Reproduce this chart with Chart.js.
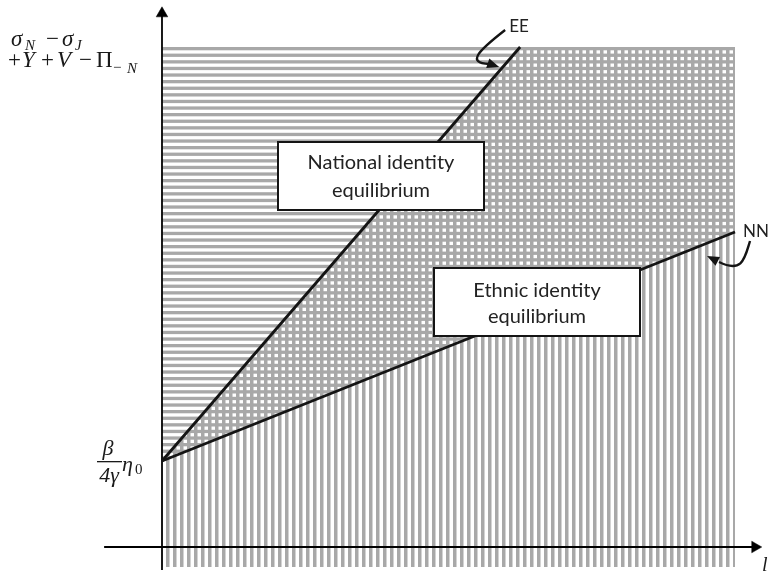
<!DOCTYPE html>
<html>
<head>
<meta charset="utf-8">
<script src="https://cdn.jsdelivr.net/npm/chart.js@4.4.0/dist/chart.umd.min.js"></script>
<style>
  html, body { margin: 0; padding: 0; background: #fff; }
  #wrap { width: 769px; height: 575px; position: relative; }
</style>
</head>
<body>
<div id="wrap"><canvas id="eqChart"></canvas></div>
<script>
// EE and NN lines (l on the x axis, value on the y axis)
var eeL = [0, 6.25];
var eeV = [1.72, 10];
var nnL = [0, 10];
var nnV = [1.72, 6.3];

// edges of the shaded area
var hatchTop = 10;
var hatchRight = 10;
var hatchFloor = -0.4;

// axes
var yAxisL = [0, 0];
var yAxisV = [-0.46, 10.67];
var xAxisL = [-1.01, 10.35];
var xAxisV = [0, 0];

var boxTexts = [
    ['National identity', 'equilibrium'],
    ['Ethnic identity', 'equilibrium']
];

var hatchGray = '#a8a8a8';
var ink = '#141414';

function pts(xs, ys) {
    return xs.map(function(x, i) { return {x: x, y: ys[i]}; });
}

var canvas = document.getElementById('eqChart');
var ctx = canvas.getContext('2d');

/**
 *  Hatch patterns: horizontal bands and vertical bands.
 */
function hPattern() {
    var c = document.createElement('canvas');
    c.width = 8; c.height = 33;
    var g = c.getContext('2d');
    g.fillStyle = hatchGray;
    for (var i = -6; i <= 6; i++) {
        g.fillRect(0, 14 + i * 6.6, 8, 3.3);
    }
    return ctx.createPattern(c, 'repeat');
}

function vPattern() {
    var c = document.createElement('canvas');
    c.width = 14; c.height = 8;
    var g = c.getContext('2d');
    g.fillStyle = hatchGray;
    for (var i = -3; i <= 3; i++) {
        g.fillRect(12 + i * 7, 0, 3.5, 8);
    }
    return ctx.createPattern(c, 'repeat');
}

function arrowHead(g, fx, fy, tx, ty, len, wid) {
    var a = Math.atan2(ty - fy, tx - fx);
    var bx = tx - Math.cos(a) * len, by = ty - Math.sin(a) * len;
    g.beginPath();
    g.moveTo(tx, ty);
    g.lineTo(bx + Math.sin(a) * wid / 2, by - Math.cos(a) * wid / 2);
    g.lineTo(bx - Math.sin(a) * wid / 2, by + Math.cos(a) * wid / 2);
    g.closePath();
    g.fill();
}

function runs(g, y, list) {
    list.forEach(function(r) {
        g.font = r[1];
        g.fillText(r[0], r[2], y + (r[3] || 0));
    });
}

/**
 *  Draws the label boxes, axis labels and the curved pointers.
 */
var labelPlugin = {
    id: 'labels',
    afterDatasetsDraw: function(chart) {
        var g = chart.ctx;
        var xs = chart.scales.x, ys = chart.scales.y;
        g.save();
        g.fillStyle = ink;
        g.strokeStyle = ink;
        g.textBaseline = 'alphabetic';

        // boxes
        var boxes = [[278, 142, 206, 68, 169, 197], [434, 268, 206, 68, 297, 323]];
        boxes.forEach(function(b, i) {
            g.fillStyle = '#fff';
            g.fillRect(b[0], b[1], b[2], b[3]);
            g.lineWidth = 2;
            g.strokeRect(b[0], b[1], b[2], b[3]);
            g.fillStyle = '#222';
            g.font = '20px Lato';
            g.textAlign = 'center';
            g.fillText(boxTexts[i][0], b[0] + b[2] / 2, b[4]);
            g.fillText(boxTexts[i][1], b[0] + b[2] / 2, b[5]);
        });

        // EE pointer
        var ex = xs.getPixelForValue(eeL[1]), ey = ys.getPixelForValue(eeV[1]);
        g.lineWidth = 2.4;
        g.beginPath();
        g.moveTo(ex - 15, ey - 17);
        g.bezierCurveTo(ex - 42, ey + 4, ex - 54, ey + 16, ex - 31, ey + 17);
        g.stroke();
        g.fillStyle = ink;
        arrowHead(g, ex - 33, ey + 16, ex - 21, ey + 20, 12, 10);
        g.textAlign = 'left';
        g.fillStyle = '#222';
        g.font = '17px Lato';
        g.fillText('EE', ex - 11, ey - 15);

        // NN pointer
        var nx = xs.getPixelForValue(nnL[1]), ny = ys.getPixelForValue(nnV[1]);
        g.beginPath();
        g.moveTo(nx + 15, ny + 9);
        g.bezierCurveTo(nx + 10, ny + 25, nx + 8, ny + 42, nx - 16, ny + 30);
        g.stroke();
        g.fillStyle = ink;
        arrowHead(g, nx - 14, ny + 31, nx - 28, ny + 24, 12, 10);
        g.fillStyle = '#222';
        g.font = '17px Lato';
        g.fillText('NN', nx + 8, ny + 5);

        // vertical axis label
        g.fillStyle = '#1a1a1a';
        var it = 'italic 23px "Liberation Serif"';
        var up = '23px "Liberation Serif"';
        var sub = 'italic 15px "Liberation Serif"';
        var subUp = '15px "Liberation Serif"';
        runs(g, 46, [['\u03C3', it, 11], ['N', sub, 25, 4], ['\u2212', up, 46], ['\u03C3', it, 62], ['J', sub, 75, 4]]);
        runs(g, 67, [['+', up, 8], ['Y', it, 22], ['+', up, 41], ['V', it, 57], ['\u2212', up, 79],
                     ['\u03A0', up, 96], ['\u2212', subUp, 113, 5], ['N', sub, 127, 6]]);

        // intercept label
        var iy = ys.getPixelForValue(eeV[0]);
        g.textAlign = 'center';
        g.font = 'italic 22px "Liberation Serif"';
        g.fillText('\u03B2', 108, iy - 6);
        g.fillRect(97, iy, 25, 1.3);
        g.fillText('4\u03B3', 109, iy + 21);
        g.textAlign = 'left';
        g.fillText('\u03B7', 122, iy + 10);
        g.font = '15px "Liberation Serif"';
        g.fillText('0', 135, iy + 13);

        // horizontal axis label
        g.font = 'italic 20px "Liberation Serif"';
        g.fillText('l', 762, 571);
        g.restore();
    }
};

new Chart(ctx, {
    type: 'line',
    data: {
        datasets: [{
            label: 'EE',
            data: pts(eeL, eeV),
            borderColor: ink,
            borderWidth: 2.8,
            pointRadius: 0,
            fill: false
        }, {
            label: 'NN',
            data: pts(nnL, nnV),
            borderColor: ink,
            borderWidth: 2.8,
            pointRadius: 0,
            fill: false
        }, {
            label: 'y axis',
            data: pts(yAxisL, yAxisV),
            borderColor: '#000',
            borderWidth: 1.8,
            pointRadius: [0, 6.7],
            pointStyle: 'triangle',
            pointRotation: [0, 0],
            pointBackgroundColor: '#000',
            pointBorderColor: '#000',
            pointBorderWidth: 0.5,
            fill: false
        }, {
            label: 'x axis',
            data: pts(xAxisL, xAxisV),
            borderColor: '#000',
            borderWidth: 1.8,
            pointRadius: [0, 6.7],
            pointStyle: 'triangle',
            pointRotation: [0, 90],
            pointBackgroundColor: '#000',
            pointBorderColor: '#000',
            pointBorderWidth: 0.5,
            fill: false
        }, {
            label: 'ethnic side',
            data: pts(eeL.concat([hatchRight]), eeV.concat([hatchTop])),
            borderWidth: 0,
            pointRadius: 0,
            backgroundColor: vPattern(),
            fill: {value: hatchFloor}
        }, {
            label: 'national side',
            data: pts(nnL, nnV),
            borderWidth: 0,
            pointRadius: 0,
            backgroundColor: hPattern(),
            fill: {value: hatchTop}
        }]
    },
    options: {
        responsive: true,
        maintainAspectRatio: false,
        animation: false,
        events: [],
        layout: { padding: 0, autoPadding: false },
        scales: {
            x: { type: 'linear', min: -2.827, max: 10.593, display: false },
            y: { type: 'linear', min: -0.56, max: 10.94, display: false }
        },
        plugins: {
            legend: { display: false },
            tooltip: { enabled: false }
        }
    },
    plugins: [labelPlugin]
});
</script>
</body>
</html>
